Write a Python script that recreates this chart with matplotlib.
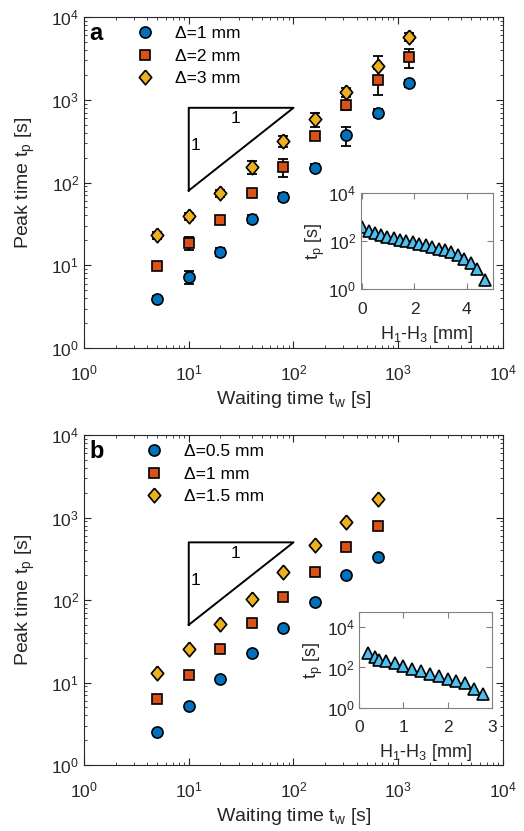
import matplotlib
matplotlib.use("Agg")
import matplotlib.pyplot as plt

plt.rcParams['font.family'] = ['Liberation Sans', 'DejaVu Sans']
plt.rcParams['mathtext.fontset'] = 'custom'
plt.rcParams['mathtext.rm'] = 'Liberation Sans'
plt.rcParams['mathtext.it'] = 'Liberation Sans:italic'
plt.rcParams['mathtext.default'] = 'regular'

## ================= data =================
# panel a
tw_a = [5, 10, 20, 40, 80, 160, 320, 640, 1280]
tp_a1 = [3.9, 7.3, 14.6, 36, 67, 151, 371, 698, 1580]
tp_a2 = [9.8, 18.7, 35, 75, 155, 365, 857, 1733, 3250]
tp_a3 = [23, 39, 74, 155, 317, 580, 1230, 2580, 5780]
err_a1 = [0.3, 1.3, 1.5, 4, 8, 15, 95, 70, 150]
err_a2 = [0.8, 3.5, 3, 8, 38, 30, 100, 600, 850]
err_a3 = [2, 4, 7, 28, 45, 110, 150, 800, 600]
labels_a = ["\u0394=1 mm", "\u0394=2 mm", "\u0394=3 mm"]

# inset a
dh_a = [0, 0.24, 0.47, 0.71, 0.96, 1.21, 1.45, 1.69, 1.94, 2.19,
        2.43, 2.68, 2.93, 3.17, 3.42, 3.67, 3.91, 4.15, 4.41, 4.71]
tpi_a = [405, 268, 214, 182, 155, 132, 115, 102, 89, 76,
         69, 59, 50, 42, 35, 26, 19, 13, 6.9, 2.4]

# panel b
tw_b = [5, 10, 20, 40, 80, 160, 320, 640]
tp_b1 = [2.53, 5.2, 10.9, 22.6, 45.4, 95.5, 199, 335]
tp_b2 = [6.25, 12.4, 25.5, 52, 108, 220, 435, 796]
tp_b3 = [13.1, 25.7, 50.7, 103, 216, 460, 874, 1676]
labels_b = ["\u0394=0.5 mm", "\u0394=1 mm", "\u0394=1.5 mm"]

# inset b
dh_b = [0.2, 0.35, 0.45, 0.6, 0.8, 1.0, 1.2, 1.4, 1.6, 1.8, 2.0, 2.2, 2.4, 2.6, 2.8]
tpi_b = [525, 316, 250, 215, 166, 121, 89, 68, 50, 38, 28, 22, 16, 8.9, 5]

# slope triangles (x0, x1, y at x0)
tri_a = [10, 100, 80]
tri_b = [10, 100, 50]

blue = "#0072BD"
orange = "#D95319"
yellow = "#EDB120"
cyan = "#4DBEEE"
frame = "#262626"

diamond = [(0, 1), (0.85, 0), (0, -1), (-0.85, 0), (0, 1)]
styles = [("o", 8, blue), ("s", 6.5, orange), (diamond, 10.5, yellow)]


def style_main(ax):
	ax.set_xscale("log")
	ax.set_yscale("log")
	ax.set_xlim(1, 1e4)
	ax.set_ylim(1, 1e4)
	ax.tick_params(which="both", direction="in", top=True, right=True, colors=frame, labelsize=12.5, labelcolor="#262626")
	ax.tick_params(which="major", length=5, width=0.8)
	ax.tick_params(which="minor", length=2.5, width=0.6)
	ax.tick_params(axis="x", which="major", pad=11)
	for s in ax.spines.values():
		s.set_color(frame)
		s.set_linewidth(0.8)
	ax.set_xlabel("Waiting time t$_{w}$ [s]", fontsize=14, color="#262626", labelpad=4)
	ax.set_ylabel("Peak time t$_{p}$ [s]", fontsize=14, color="#262626", labelpad=10)


def style_inset(ax, xlim, ylim, xticks):
	ax.set_yscale("log")
	ax.set_xlim(xlim)
	ax.set_ylim(ylim)
	ax.set_xticks(xticks)
	ax.set_yticks([1, 1e2, 1e4])
	ax.minorticks_off()
	ax.tick_params(direction="in", top=True, right=True, colors="#808080", labelsize=12.5, labelcolor="#262626", length=4)
	ax.tick_params(axis="x", pad=9)
	for s in ax.spines.values():
		s.set_color("#808080")
		s.set_linewidth(0.8)
	ax.set_xlabel("H$_{1}$-H$_{3}$ [mm]", fontsize=13, color="#262626", labelpad=5)
	ax.set_ylabel("t$_{p}$ [s]", fontsize=13, color="#262626", labelpad=1)


def draw_triangle(ax, tri, ydiv_top, ydiv_side):
	x0, x1, y0 = tri
	y1 = y0 * x1 / x0
	ax.plot([x0, x1, x0, x0], [y0, y1, y1, y0], "-", color="black", lw=1.4, zorder=1)
	ax.text(x0 * 2.77, y1 / ydiv_top, "1", fontsize=12.5, ha="center", va="center")
	ax.text(x0 * 1.15, y1 / ydiv_side, "1", fontsize=12.5, ha="center", va="center")


fig = plt.figure(figsize=(5.24, 8.31), dpi=100)

#####################################################################
ax1 = fig.add_axes([0.1603, 0.5812, 0.7996, 0.3983])
series_a = [(tp_a1, err_a1), (tp_a2, err_a2), (tp_a3, err_a3)]
for i in range(3):
	m, ms, c = styles[i]
	ax1.errorbar(tw_a, series_a[i][0], yerr=series_a[i][1], fmt="none", ecolor="black", elinewidth=1.3, capsize=3.5, capthick=1.3, zorder=2)
	ax1.plot(tw_a, series_a[i][0], linestyle="none", marker=m, markersize=ms, markerfacecolor=c, markeredgecolor="black", markeredgewidth=1.2, label=labels_a[i], zorder=3)
draw_triangle(ax1, tri_a, 1.33, 2.82)
style_main(ax1)
ax1.legend(loc="upper left", bbox_to_anchor=(0.125, 0.972), frameon=False, fontsize=12.5, numpoints=1,
	handlelength=1.0, handletextpad=1.2, labelspacing=0.42, borderpad=0, borderaxespad=0)
ax1.text(0.012, 0.985, "a", transform=ax1.transAxes, fontsize=17, fontweight="bold", ha="left", va="top")

ins1 = fig.add_axes([0.6889, 0.6519, 0.2513, 0.1155])
ins1.plot(dh_a, tpi_a, linestyle="none", marker="^", markersize=8.5, markerfacecolor=cyan, markeredgecolor="black", markeredgewidth=1.2)
style_inset(ins1, (-0.05, 5.0), (1, 1e4), [0, 2, 4])

#####################################################################
ax2 = fig.add_axes([0.1603, 0.0794, 0.7996, 0.3971])
series_b = [tp_b1, tp_b2, tp_b3]
for i in range(3):
	m, ms, c = styles[i]
	ax2.plot(tw_b, series_b[i], linestyle="none", marker=m, markersize=ms, markerfacecolor=c, markeredgecolor="black", markeredgewidth=1.2, label=labels_b[i], zorder=3)
draw_triangle(ax2, tri_b, 1.36, 2.86)
style_main(ax2)
ax2.legend(loc="upper left", bbox_to_anchor=(0.147, 0.972), frameon=False, fontsize=12.5, numpoints=1,
	handlelength=1.0, handletextpad=1.2, labelspacing=0.42, borderpad=0, borderaxespad=0)
ax2.text(0.012, 0.985, "b", transform=ax2.transAxes, fontsize=17, fontweight="bold", ha="left", va="top")

ins2 = fig.add_axes([0.6857, 0.1484, 0.2527, 0.1148])
ins2.plot(dh_b, tpi_b, linestyle="none", marker="^", markersize=8.5, markerfacecolor=cyan, markeredgecolor="black", markeredgewidth=1.2)
style_inset(ins2, (0, 3), (1, 5.6e4), [0, 1, 2, 3])

#####################################################################
fig.savefig("out.png", dpi=100)
